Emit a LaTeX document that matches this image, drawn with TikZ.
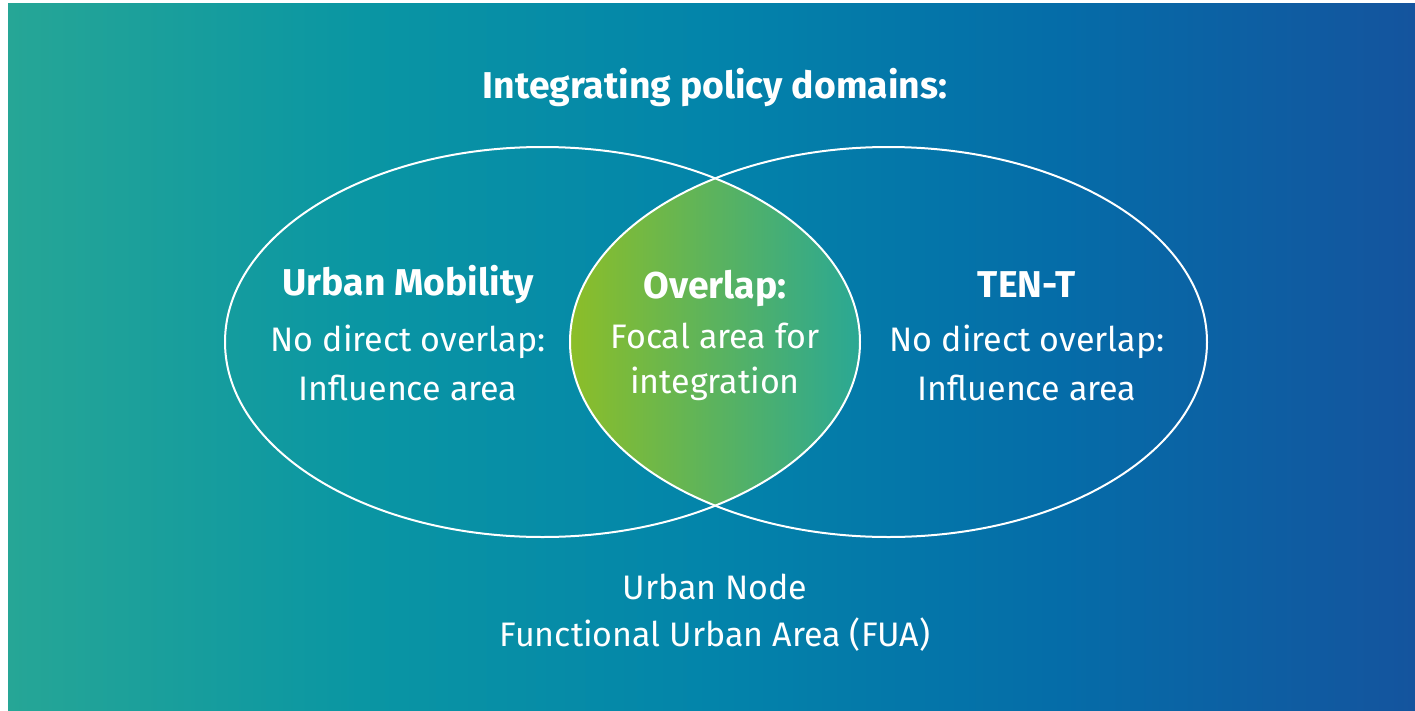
\documentclass[tikz,border=0pt]{standalone}
\usepackage{fontspec}
\setmainfont{Fira Sans}
\definecolor{bgA}{RGB}{38,166,150}
\definecolor{bgB}{RGB}{10,150,163}
\definecolor{bgC}{RGB}{3,132,170}
\definecolor{bgD}{RGB}{5,108,168}
\definecolor{bgE}{RGB}{20,84,158}
\definecolor{lensL}{RGB}{140,190,40}
\definecolor{lensR}{RGB}{42,168,148}
\pgfdeclarehorizontalshading{bgshade}{100bp}{color(0bp)=(bgA); color(25bp)=(bgA); color(37.5bp)=(bgB); color(50bp)=(bgC); color(62.5bp)=(bgD); color(75bp)=(bgE); color(100bp)=(bgE)}
\pgfdeclarehorizontalshading{lensshade}{100bp}{color(0bp)=(lensL); color(25bp)=(lensL); color(75bp)=(lensR); color(100bp)=(lensR)}
\begin{document}
\begin{tikzpicture}[x=0.75pt,y=-0.75pt,
  txt/.style={text=white,font=\fontsize{25.5}{30}\selectfont,align=center,inner sep=0pt},
  hd/.style={text=white,font=\fontsize{28}{33}\selectfont\bfseries,align=center,inner sep=0pt},
  ring/.style={draw=white,line width=1.5pt}]
\useasboundingbox (0,0) rectangle (1415,711);
\shade[shading=bgshade] (8,3) rectangle (1415,711);
\begin{scope}
  \clip (542.5,342) ellipse [x radius=317.5, y radius=195];
  \clip (888.5,342) ellipse [x radius=318.5, y radius=195];
  \shade[shading=lensshade] (570,140) rectangle (860,540);
\end{scope}
\draw[ring] (542.5,342) ellipse [x radius=317.5, y radius=195];
\draw[ring] (888.5,342) ellipse [x radius=318.5, y radius=195];
\node[hd] (title) at (715,88) {Integrating policy domains:};
\node[hd] (um) at (408,285) {Urban Mobility};
\node[txt] (uml1) at (408,342) {No direct overlap:};
\node[txt] (uml2) at (408,388) {Influence area};
\node[hd] (ov) at (715,288) {Overlap:};
\node[txt] (ovl1) at (715,336) {Focal area for};
\node[txt] (ovl2) at (715,384) {integration};
\node[hd] (tt) at (1027,285) {TEN-T};
\node[txt] (ttl1) at (1027,342) {No direct overlap:};
\node[txt] (ttl2) at (1027,388) {Influence area};
\node[txt] (un) at (715,587) {Urban Node};
\node[txt] (fua) at (715,635) {Functional Urban Area (FUA)};
\end{tikzpicture}
\end{document}
